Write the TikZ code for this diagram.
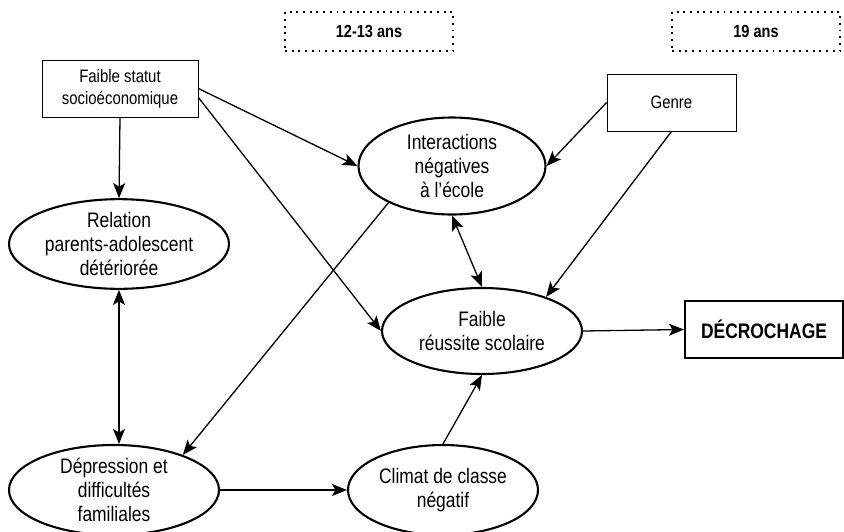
\documentclass[tikz,border=0pt]{standalone}
\usepackage{fontspec}
\setmainfont{Liberation Sans}[FakeStretch=0.83]
\usetikzlibrary{arrows.meta, shapes.geometric}

\begin{document}
\begin{tikzpicture}[x=1pt, y=-1pt,
  ell/.style={ellipse, draw, line width=2.1pt, inner sep=0pt, align=center,
    font=\fontsize{21}{24}\selectfont},
  boite/.style={rectangle, draw, line width=0.9pt, inner sep=0pt, align=center,
    minimum height=57pt, font=\fontsize{18}{22}\selectfont},
  age/.style={rectangle, draw, line width=1.9pt, dash pattern=on 1.9pt off 4.8pt,
    minimum width=168pt, minimum height=39pt, font=\bfseries\fontsize{17.5}{21}\selectfont},
  fl/.style={-{Stealth[length=15pt,width=12pt,inset=3.5pt]}, line width=1.3pt},
  dfl/.style={{Stealth[length=15pt,width=12pt,inset=3.5pt]}-{Stealth[length=15pt,width=12pt,inset=3.5pt]}, line width=1.3pt}]
  \useasboundingbox (0,0) rectangle (844,531);

  \node[age] (ans12) at (369,31.5) {12-13 ans};
  \node[age] (ans19) at (756,31.5) {19 ans};

  \node[boite, minimum width=156pt] (statut) at (120,88.5) {Faible statut\\socioéconomique};
  \node[boite, minimum width=129pt] (genre) at (671.5,102.5) {Genre};
  \node[ell, minimum width=187pt, minimum height=97pt] (inter) at (452,166) {Interactions\\négatives\\à l’école};
  \node[ell, minimum width=220pt, minimum height=88pt] (relation) at (119,244) {Relation\\parents-adolescent\\détériorée};
  \node[ell, minimum width=200pt, minimum height=86pt] (reussite) at (482,331) {Faible\\réussite scolaire};
  \node[rectangle, draw, line width=2pt, minimum width=158pt, minimum height=57pt,
    font=\bfseries\fontsize{21}{24}\selectfont] (decro) at (764,329.5) {DÉCROCHAGE};
  \node[ell, minimum width=210pt, minimum height=90pt] (depr) at (114,490) {Dépression et\\difficultés\\familiales};
  \node[ell, minimum width=190pt, minimum height=90pt] (climat) at (443,490) {Climat de classe\\négatif};

  \path[fl]
    (statut.south) edge (relation.north)
    (statut.east) edge (inter.west)
    ([yshift=-9pt]statut.east) edge (reussite.west)
    (inter.210) edge (depr.27)
    (genre.west) edge (inter.east)
    (genre.south) edge (reussite.28)
    (depr.east) edge (climat.west)
    (climat.north) edge (reussite.south)
    (reussite.east) edge (decro.west);
  \path[dfl]
    (inter.south) edge (reussite.north)
    (relation.south) edge (relation.south |- depr.north);
\end{tikzpicture}
\end{document}
